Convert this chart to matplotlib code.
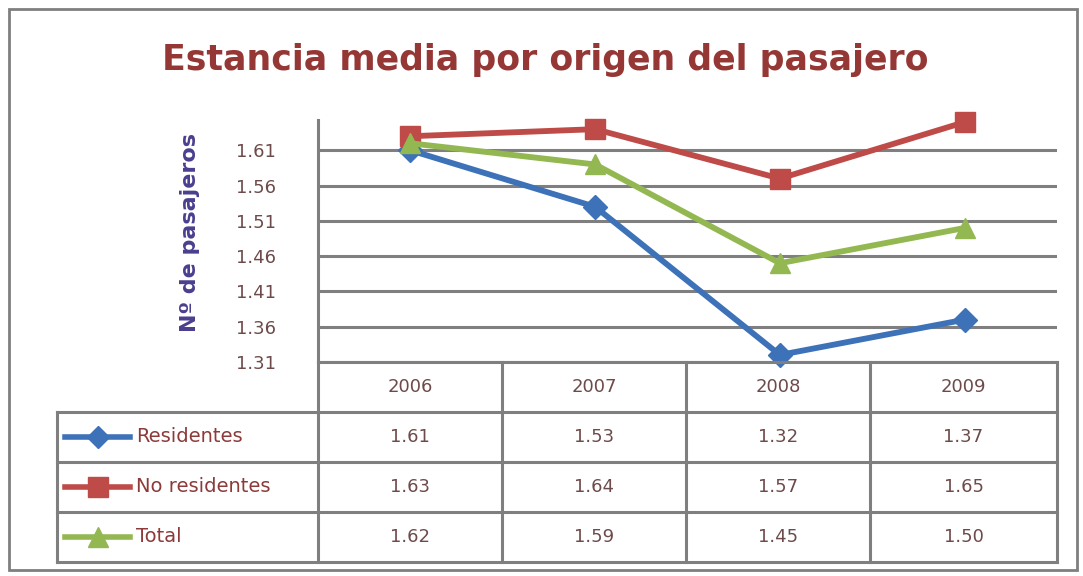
# Estancia media por origen del pasajero - line chart with data table
import matplotlib.pyplot as plt
from matplotlib.lines import Line2D
from matplotlib.patches import Rectangle

# Data
years = ["2006", "2007", "2008", "2009"]
residentes = [1.61, 1.53, 1.32, 1.37]
no_residentes = [1.63, 1.64, 1.57, 1.65]
total = [1.62, 1.59, 1.45, 1.50]
series_names = ["Residentes", "No residentes", "Total"]
y_ticks = [1.31, 1.36, 1.41, 1.46, 1.51, 1.56, 1.61]

# Styles
W, H = 1083, 576
grey = "#7f7f7f"
text_red = "#8c3a3a"
tick_col = "#6e4a4a"
colors = ["#3d72b8", "#be4b48", "#93b851"]
markers = ["D", "s", "^"]
msizes = [12, 15, 15]

fig = plt.figure(figsize=(W / 100, H / 100), dpi=100)

# Pixel layout
col_edges = [318, 502, 686, 870, 1057]
row_edges = [362, 412, 462, 512, 562]
leg_left = 57
plot_top = 120


def fx(px):
    return px / W


def fy(py):
    return 1 - py / H


# Main plot area
ax = fig.add_axes([fx(col_edges[0]), fy(row_edges[0]),
                   fx(col_edges[-1]) - fx(col_edges[0]), fy(plot_top) - fy(row_edges[0])])
ax.set_xlim(-0.5, 3.5)
ax.set_ylim(1.31, 1.653)
ax.set_yticks(y_ticks)
ax.set_yticklabels([f"{v:.2f}" for v in y_ticks], color=tick_col, fontsize=13)
ax.tick_params(axis="y", length=0, pad=30)
ax.set_xticks([])
for s in ["top", "right", "bottom"]:
    ax.spines[s].set_visible(False)
ax.spines["left"].set_color(grey)
ax.spines["left"].set_linewidth(2.2)
for v in y_ticks:
    ax.axhline(v, color=grey, lw=2.2, zorder=1)

x = range(len(years))
for vals, c, m, ms in zip([residentes, no_residentes, total], colors, markers, msizes):
    ax.plot(x, vals, color=c, lw=4.2, marker=m, markersize=ms, zorder=3, clip_on=False)

# Y label
fig.text(fx(190), fy(232), "Nº de pasajeros", rotation=90, ha="center", va="center",
         color="#4a3f8f", fontsize=16, fontweight="bold")

# Title
fig.text(fx(545), fy(60), "Estancia media por origen del pasajero", ha="center", va="center",
         color="#953735", fontsize=25, fontweight="bold")

# Overlay axes in pixel coordinates for the table and border
ov = fig.add_axes([0, 0, 1, 1], facecolor="none")
ov.set_xlim(0, W)
ov.set_ylim(H, 0)
ov.axis("off")

ov.add_patch(Rectangle((9, 9), 1068, 561, fill=False, edgecolor=grey, lw=2))

# Table grid
lw = 2.2
for cx in col_edges:
    ov.plot([cx, cx], [row_edges[0], row_edges[-1]], color=grey, lw=lw)
ov.plot([leg_left, leg_left], [row_edges[1], row_edges[-1]], color=grey, lw=lw)
ov.plot([col_edges[0], col_edges[-1]], [row_edges[0], row_edges[0]], color=grey, lw=lw)
for ry in row_edges[1:]:
    ov.plot([leg_left, col_edges[-1]], [ry, ry], color=grey, lw=lw)

# Header
for i, yr in enumerate(years):
    cx = (col_edges[i] + col_edges[i + 1]) / 2
    ov.text(cx, (row_edges[0] + row_edges[1]) / 2, yr, ha="center", va="center",
            color=tick_col, fontsize=13)

# Rows
for r, (name, vals) in enumerate(zip(series_names, [residentes, no_residentes, total])):
    cy = (row_edges[r + 1] + row_edges[r + 2]) / 2
    ov.add_line(Line2D([65, 130], [cy, cy], color=colors[r], lw=4))
    ov.plot([98], [cy], marker=markers[r], color=colors[r], markersize=msizes[r] - 1)
    ov.text(136, cy, name, ha="left", va="center", color=text_red, fontsize=14)
    for i, v in enumerate(vals):
        cx = (col_edges[i] + col_edges[i + 1]) / 2
        ov.text(cx, cy, f"{v:.2f}", ha="center", va="center", color=tick_col, fontsize=13)

fig.savefig("out.png", dpi=100)
